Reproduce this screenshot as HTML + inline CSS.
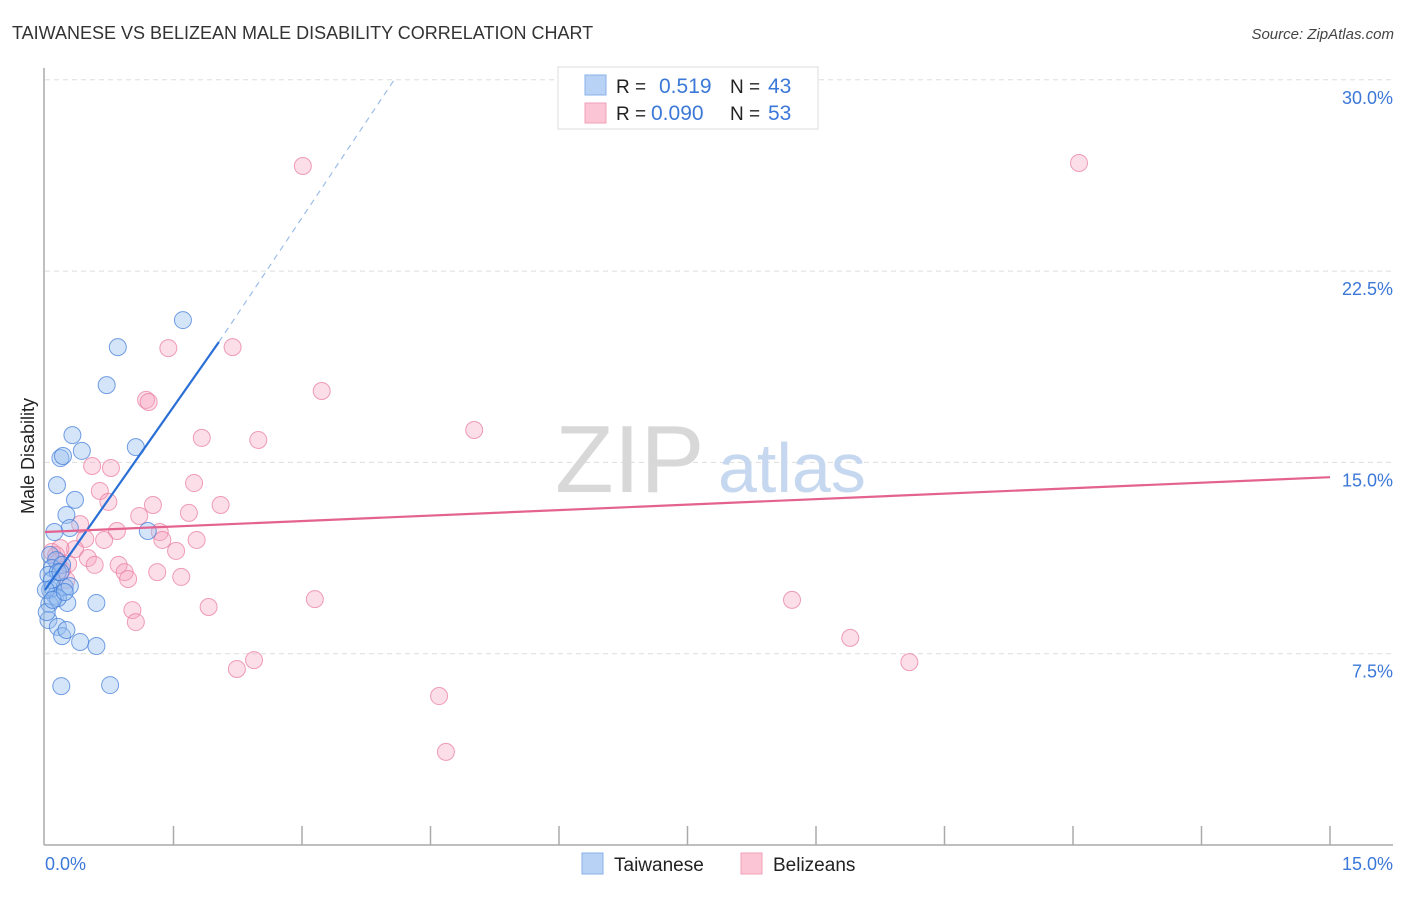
<!DOCTYPE html>
<html><head><meta charset="utf-8"><style>
body{margin:0;background:#fff;font-family:"Liberation Sans",sans-serif;}
svg text{font-family:"Liberation Sans",sans-serif;}
</style></head><body>
<svg id="chart" width="1406" height="892" xmlns="http://www.w3.org/2000/svg">
<text x="12" y="39" font-size="18" fill="#333">TAIWANESE VS BELIZEAN MALE DISABILITY CORRELATION CHART</text>
<text x="1394" y="39" font-size="15" fill="#444" text-anchor="end" font-style="italic">Source: ZipAtlas.com</text>
<g id="grid"></g>
<text x="555" y="492" font-size="96" fill="#d8d8d8" font-family="Liberation Serif,serif">ZIP</text>
<text x="718" y="492" font-size="70" fill="#c6d8ef">atlas</text>
<line x1="44" y1="68" x2="44" y2="845" stroke="#aaa" stroke-width="1.5"/>
<line x1="44" y1="845" x2="1393" y2="845" stroke="#aaa" stroke-width="1.5"/>
<g id="ticks"></g>
<g id="pts"></g>
<g id="trends"></g>
<text transform="translate(34,456) rotate(-90)" font-size="18" fill="#222" text-anchor="middle">Male Disability</text>
<text x="45" y="870" font-size="18" fill="#3b78d8">0.0%</text>
<text x="1393" y="870" font-size="18" fill="#3b78d8" text-anchor="end">15.0%</text>
<g>
<rect x="558" y="67" width="260" height="62" fill="#fff" stroke="#ddd"/>
<rect x="585" y="75" width="21" height="20" fill="#b8d2f5" stroke="#8ab0e8"/>
<rect x="585" y="103" width="21" height="20" fill="#fbc5d5" stroke="#f0a0b8"/>
<text x="616" y="93" font-size="19" fill="#222">R =</text><text x="659" y="93" font-size="21" fill="#3b78d8">0.519</text>
<text x="730" y="93" font-size="19" fill="#222">N =</text><text x="768" y="93" font-size="21" fill="#3b78d8">43</text>
<text x="616" y="120" font-size="19" fill="#222">R =</text><text x="651" y="120" font-size="21" fill="#3b78d8">0.090</text>
<text x="730" y="120" font-size="19" fill="#222">N =</text><text x="768" y="120" font-size="21" fill="#3b78d8">53</text>
</g>
<g>
<rect x="582" y="853" width="21" height="21" fill="#b8d2f5" stroke="#8ab0e8"/>
<text x="614" y="871" font-size="19" fill="#222">Taiwanese</text>
<rect x="741" y="853" width="21" height="21" fill="#fbc5d5" stroke="#f0a0b8"/>
<text x="773" y="871" font-size="19" fill="#222">Belizeans</text>
</g>
</svg>
<script>
const yTicks=[7.5,15,22.5,30];
const yTickLabels=["7.5%","15.0%","22.5%","30.0%"];
const blueX=[1.61,0.85,0.72,0.32,0.43,1.06,0.18,0.21,0.14,0.35,0.25,0.29,0.11,1.20,0.06,0.13,0.08,0.20,0.04,0.15,0.06,0.09,0.12,0.23,0.29,0.05,0.26,0.60,0.04,0.15,0.20,0.25,0.41,0.60,0.19,0.76,0.08,0.15,0.01,0.02,0.18,0.09,0.23];
const blueY=[20.58,19.52,18.03,16.07,15.45,15.60,15.17,15.25,14.11,13.53,12.94,12.43,12.27,12.31,11.37,11.17,10.86,10.98,10.59,10.70,10.00,10.08,9.76,10.11,10.15,9.45,9.49,9.49,8.82,8.55,8.19,8.43,7.96,7.80,6.23,6.27,10.39,9.68,10.00,9.13,10.70,9.61,9.92];
const pinkX=[3.01,12.07,1.44,2.19,3.23,1.18,1.21,5.01,1.83,2.49,0.55,0.77,0.64,1.74,0.74,1.26,2.05,1.10,1.68,0.41,0.84,1.34,1.37,0.47,0.69,1.77,1.53,0.35,0.08,0.13,0.18,0.50,0.86,0.58,0.93,0.20,0.27,1.31,1.59,0.97,1.02,1.91,3.15,8.72,1.06,9.40,2.44,2.24,10.09,4.60,4.68,0.15,0.25];
const pinkY=[26.62,26.74,19.48,19.52,17.80,17.45,17.37,16.27,15.96,15.88,14.86,14.78,13.88,14.19,13.45,13.33,13.33,12.90,13.02,12.58,12.31,12.27,11.96,12.00,11.96,11.96,11.53,11.60,11.49,11.37,11.64,11.25,10.98,10.98,10.70,10.78,11.02,10.70,10.51,10.43,9.21,9.33,9.64,9.61,8.74,8.12,7.25,6.90,7.17,5.84,3.65,11.10,10.39];
const blueTrend=[0,10.0,2.03,19.72,4.09,30.07];
const pinkTrend=[0,12.27,15,14.42];
const X=v=>45+v/15*1285, Y=v=>845-v/7.5*191.3;
const NS="http://www.w3.org/2000/svg";
function mk(tag,attrs,parent){const e=document.createElementNS(NS,tag);for(const k in attrs)e.setAttribute(k,attrs[k]);document.getElementById(parent).appendChild(e);return e;}
yTicks.forEach((t,i)=>{
 const l=mk('line',{x1:45,x2:1393,y1:Y(t),y2:Y(t),stroke:'#ddd','stroke-dasharray':'5,4'},'grid');
 
 
 const tx=mk('text',{x:1393,y:Y(t)+24,'font-size':18,fill:'#3b78d8','text-anchor':'end'},'grid');
 tx.textContent=yTickLabels[i];
 
 
});
for(let i=1;i<=10;i++){
 const l=mk('line',{x1:X(i*1.5),x2:X(i*1.5),y1:826,y2:845,stroke:'#aaa','stroke-width':1.5},'ticks');
 
 
}
pinkX.forEach((x,i)=>{
 const c=mk('circle',{cx:X(x),cy:Y(pinkY[i]),r:8.5,fill:'rgba(247,160,188,0.35)',stroke:'rgba(232,120,155,0.7)','stroke-width':1},'pts');
 
 
});
blueX.forEach((x,i)=>{
 const c=mk('circle',{cx:X(x),cy:Y(blueY[i]),r:8.5,fill:'rgba(150,190,240,0.4)',stroke:'rgba(60,120,215,0.7)','stroke-width':1},'pts');
 
 
});
const bl=mk('line',{x1:X(blueTrend[0]),y1:Y(blueTrend[1]),x2:X(blueTrend[2]),y2:Y(blueTrend[3]),stroke:'#2a6fd6','stroke-width':2.2},'trends');


const bd=mk('line',{x1:X(blueTrend[2]),y1:Y(blueTrend[3]),x2:X(blueTrend[4]),y2:Y(blueTrend[5]),stroke:'#9dbde8','stroke-width':1.2,'stroke-dasharray':'6,5'},'trends');


const pl=mk('line',{x1:X(pinkTrend[0]),y1:Y(pinkTrend[1]),x2:X(pinkTrend[2]),y2:Y(pinkTrend[3]),stroke:'#e4628f','stroke-width':2.2},'trends');


</script>
</body></html>
